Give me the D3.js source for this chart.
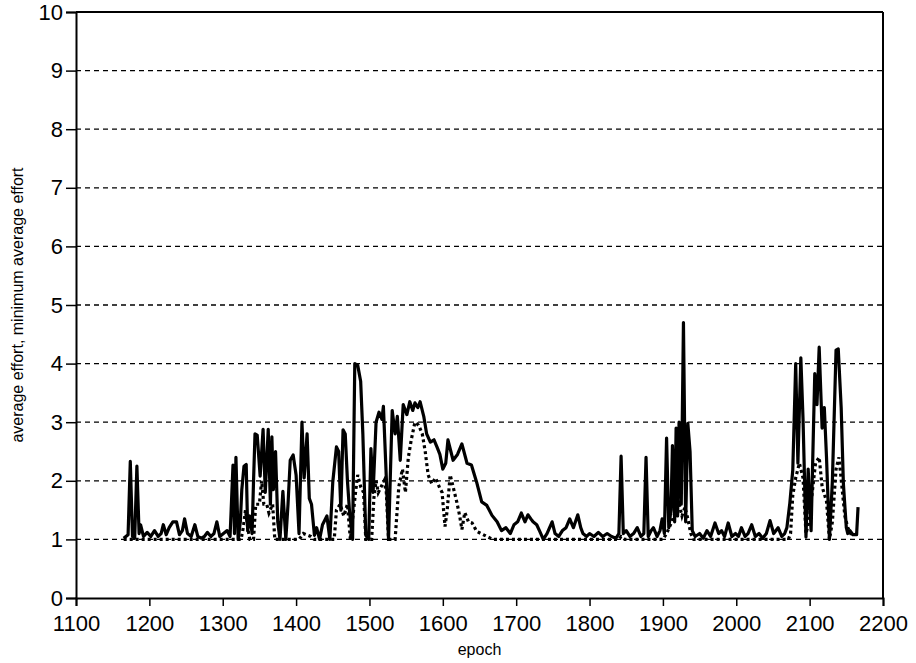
<!DOCTYPE html>
<html>
<head>
<meta charset="utf-8">
<script src="https://cdn.jsdelivr.net/npm/d3@7"></script>
<style>
  body { margin: 0; background: #fff; }
  svg text { font-family: "Liberation Sans", Arial, sans-serif; fill: #000; }
</style>
</head>
<body>
<div id="chart"></div>
<script>
/* values */
const avgEpochs = [1165,1168,1171,1174,1177,1180,1183,1186,1188,1192,1197,1202,1207,1212,1216,1219,1223,1227,1232,1237,1241,1245,1248,1252,1257,1262,1266,1271,1275,1279,1284,1288,1292,1296,1301,1306,1310,1314,1316,1318,1321,1324,1326,1329,1332,1334,1337,1340,1342,1344,1347,1351,1355,1358,1362,1365,1367,1369,1372,1375,1378,1382,1386,1389,1392,1396,1400,1404,1408,1411,1415,1418,1421,1425,1428,1432,1436,1442,1446,1450,1455,1458,1461,1464,1467,1470,1473,1477,1480,1484,1488,1491,1495,1499,1502,1505,1509,1513,1517,1519,1523,1526,1531,1535,1538,1542,1546,1551,1555,1559,1562,1566,1569,1574,1578,1583,1588,1592,1596,1600,1604,1607,1611,1614,1620,1626,1633,1639,1646,1653,1660,1667,1674,1680,1686,1692,1697,1702,1707,1712,1716,1720,1723,1728,1732,1737,1742,1749,1753,1758,1763,1768,1773,1778,1784,1788,1791,1796,1800,1806,1812,1818,1824,1830,1836,1840,1843,1846,1850,1855,1860,1865,1870,1874,1877,1880,1884,1887,1892,1896,1899,1902,1905,1908,1911,1913,1916,1918,1920,1922,1925,1928,1931,1934,1937,1940,1944,1950,1955,1960,1965,1971,1976,1980,1984,1989,1994,1999,2003,2007,2012,2016,2021,2026,2031,2036,2041,2046,2051,2057,2062,2066,2069,2073,2077,2081,2084,2088,2091,2095,2098,2102,2104,2107,2110,2113,2117,2120,2123,2127,2131,2136,2139,2143,2146,2150,2152,2155,2159,2164,2166];
const avgValues = [1.02,1.05,1.08,2.33,1.05,1.02,2.25,1.1,1.25,1.05,1.12,1.05,1.15,1.05,1.1,1.25,1.08,1.2,1.3,1.3,1.08,1.15,1.35,1.1,1.05,1.25,1.05,1.02,1.05,1.12,1.05,1.1,1.3,1.05,1.1,1.15,1.05,2.27,1.1,2.4,1.0,1.3,1.85,2.25,2.28,1.15,1.4,1.1,2.0,2.8,2.78,2.08,2.88,1.8,2.88,1.6,2.75,1.85,2.5,1.3,1.0,1.82,1.0,1.6,2.35,2.44,2.1,1.1,3.0,2.05,2.8,1.7,1.6,1.07,1.2,1.0,1.25,1.4,1.0,1.98,2.58,2.5,1.5,2.87,2.8,2.0,1.45,1.0,4.0,3.97,3.7,2.8,1.07,1.0,2.55,1.8,3.0,3.17,3.05,3.27,2.05,1.0,3.2,2.8,3.1,2.35,3.3,3.13,3.35,3.2,3.33,3.25,3.35,3.1,2.8,2.66,2.7,2.58,2.45,2.2,2.3,2.7,2.5,2.35,2.45,2.63,2.3,2.27,1.98,1.64,1.58,1.41,1.3,1.15,1.2,1.1,1.25,1.3,1.45,1.3,1.42,1.35,1.3,1.25,1.14,1.0,1.1,1.3,1.1,1.05,1.15,1.2,1.35,1.2,1.42,1.2,1.1,1.05,1.1,1.05,1.12,1.05,1.1,1.05,1.02,1.1,2.42,1.1,1.15,1.05,1.1,1.2,1.05,1.1,2.4,1.05,1.15,1.2,1.05,1.15,1.35,1.1,2.73,1.2,1.5,2.6,1.3,2.9,1.4,3.0,1.6,4.7,1.3,2.98,2.5,1.15,1.05,1.1,1.02,1.15,1.05,1.28,1.1,1.15,1.05,1.28,1.05,1.1,1.05,1.2,1.05,1.1,1.25,1.05,1.1,1.02,1.1,1.32,1.1,1.2,1.05,1.1,1.2,1.62,2.18,4.0,2.3,4.1,3.05,1.04,2.2,1.15,2.25,3.83,3.3,4.28,2.9,3.25,2.4,1.0,2.0,4.23,4.25,3.25,1.95,1.2,1.1,1.15,1.08,1.08,1.55];

const minEpochs = [1165,1310,1325,1328,1331,1334,1337,1342,1345,1350,1353,1356,1360,1363,1368,1371,1400,1404,1410,1420,1425,1452,1455,1460,1465,1470,1474,1481,1484,1488,1492,1495,1503,1506,1509,1512,1520,1523,1526,1535,1540,1545,1549,1553,1557,1562,1567,1572,1576,1580,1585,1590,1595,1599,1603,1606,1610,1614,1619,1623,1626,1630,1635,1640,1646,1652,1660,1668,1840,1843,1848,1900,1905,1912,1918,1922,1926,1930,1934,1938,1942,2071,2074,2077,2081,2086,2091,2095,2099,2104,2108,2113,2117,2123,2127,2131,2136,2140,2144,2148,2152,2156,2166];
const minValues = [1.0,1.0,1.0,1.2,1.5,1.2,1.0,1.0,1.6,1.6,2.0,1.6,1.6,1.45,1.6,1.0,1.0,1.0,1.1,1.05,1.0,1.0,1.5,1.6,1.4,1.6,1.0,1.8,2.1,1.9,1.8,1.0,1.0,1.7,2.0,1.8,2.0,1.8,1.0,1.0,1.9,2.2,1.8,2.4,2.7,3.0,2.95,2.8,2.5,2.1,1.95,2.05,1.9,1.8,1.22,1.5,2.1,1.9,1.64,1.4,1.17,1.46,1.3,1.28,1.14,1.1,1.05,1.0,1.0,1.05,1.0,1.0,1.1,1.3,1.5,1.6,1.4,1.55,1.35,1.1,1.0,1.0,1.1,1.75,2.05,2.3,2.05,1.1,1.3,1.85,2.3,2.4,1.9,1.65,1.0,1.3,2.2,2.4,1.9,1.4,1.2,1.1,1.1];

const xTicks = [1100,1200,1300,1400,1500,1600,1700,1800,1900,2000,2100,2200];
const yTicks = [0,1,2,3,4,5,6,7,8,9,10];
const gridValues = [1,2,3,4,5,6,7,8,9];

const svgW = 916, svgH = 663;
const margin = {top: 12, right: 33, bottom: 65, left: 76};
const width = svgW - margin.left - margin.right;
const height = svgH - margin.top - margin.bottom;

const x = d3.scaleLinear().domain([1100, 2200]).range([0, width]);
const y = d3.scaleLinear().domain([0, 10]).range([height, 0]);

const svg = d3.select("#chart")
    .append("svg")
        .attr("width", svgW)
        .attr("height", svgH)
    .append("g")
        .attr("transform", "translate(" + margin.left + "," + margin.top + ")");

/* dashed grid */
svg.selectAll(".grid")
    .data(gridValues)
    .enter().append("line")
        .attr("x1", 0).attr("x2", width)
        .attr("y1", d => y(d)).attr("y2", d => y(d))
        .attr("stroke", "#000")
        .attr("stroke-width", 1.3)
        .attr("stroke-dasharray", "5,4");

/* lines */
const avgData = avgEpochs.map((e, i) => [e, avgValues[i]]);
const minData = minEpochs.map((e, i) => [e, minValues[i]]);
const line = d3.line().x(d => x(d[0])).y(d => y(d[1]));

svg.append("path")
    .datum(minData)
    .attr("d", line)
    .attr("fill", "none")
    .attr("stroke", "#000")
    .attr("stroke-width", 3.2)
    .attr("stroke-dasharray", "3,3");

svg.append("path")
    .datum(avgData)
    .attr("d", line)
    .attr("fill", "none")
    .attr("stroke", "#000")
    .attr("stroke-width", 3.2)
    .attr("stroke-linejoin", "round");

/* frame: top and right */
svg.append("line")
    .attr("x1", 0).attr("x2", width).attr("y1", 0).attr("y2", 0)
    .attr("stroke", "#000").attr("stroke-width", 2);
svg.append("line")
    .attr("x1", width).attr("x2", width).attr("y1", 0).attr("y2", height)
    .attr("stroke", "#000").attr("stroke-width", 2);

/* axes */
const xAxis = svg.append("g")
    .attr("transform", "translate(0," + height + ")")
    .call(d3.axisBottom(x).tickValues(xTicks).tickFormat(d3.format("d")).tickSize(8).tickPadding(9));
const yAxis = svg.append("g")
    .call(d3.axisLeft(y).tickValues(yTicks).tickSize(10).tickPadding(3));

[xAxis, yAxis].forEach(g => {
    g.select(".domain").attr("stroke-width", 2);
    g.selectAll(".tick line").attr("stroke-width", 1.5);
    g.selectAll(".tick text")
        .style("font-size", "22px")
        .style("font-family", "'Liberation Sans', Arial, sans-serif");
});

/* titles */
svg.append("text")
    .attr("x", width / 2)
    .attr("y", height + 57)
    .attr("text-anchor", "middle")
    .style("font-size", "16px")
    .text("epoch");

svg.append("text")
    .attr("transform", "translate(" + (-53) + "," + (height / 2) + ") rotate(-90)")
    .attr("text-anchor", "middle")
    .style("font-size", "16px")
    .text("average effort, minimum average effort");
</script>
</body>
</html>
